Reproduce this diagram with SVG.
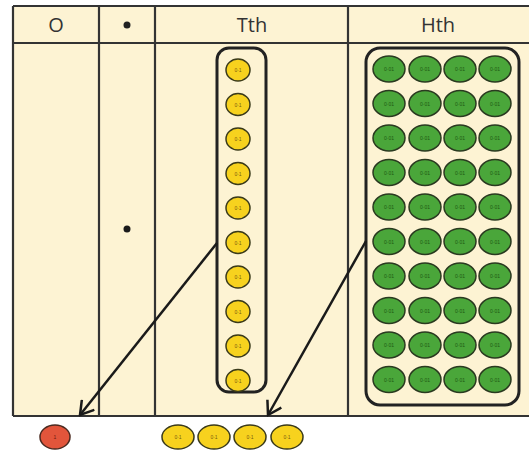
<svg xmlns="http://www.w3.org/2000/svg" width="529" height="451" viewBox="0 0 529 451">
<defs>
<style>
.grid{stroke:#333;stroke-width:2.2;fill:none}
.hdr{font-family:"Open Sans","Liberation Sans",Arial,sans-serif;font-size:20px;fill:#333;text-anchor:middle}
.box{fill:none;stroke:#222;stroke-width:3}
.y{fill:#f7d21e;stroke:#3a3a1a;stroke-width:1.5}
.g{fill:#4aa63a;stroke:#2a3a20;stroke-width:1.5}
.r{fill:#e2553b;stroke:#4a2a20;stroke-width:1.5}
.t{font-family:"Liberation Sans",Arial,sans-serif;font-size:5px;text-anchor:middle}
.ty{fill:#7a5a10}
.tg{fill:#1e5a14}
.tr{fill:#6a1a10}
.arr{stroke:#1a1a1a;stroke-width:2.5;fill:none}
</style>
<marker id="ah" markerWidth="16" markerHeight="18" refX="14" refY="9" orient="auto" markerUnits="userSpaceOnUse">
<path d="M1,1 L14,9 L1,17" fill="none" stroke="#1a1a1a" stroke-width="2.5"/>
</marker>
</defs>
<rect width="529" height="451" fill="#ffffff"/>
<g id="table">
<rect x="13" y="6" width="530" height="410" fill="#fdf3d3"/>
<path class="grid" d="M13,6 H529 M13,43 H529 M13,416 H529 M13,6 V416 M99,6 V416 M155,6 V416 M348,6 V416"/>
<text class="hdr" x="56" y="32">O</text>
<circle cx="127" cy="25" r="3.5" fill="#222"/>
<text class="hdr" x="252" y="32">Tth</text>
<text class="hdr" x="438" y="32">Hth</text>
<circle cx="127" cy="229" r="3.5" fill="#1a1a1a"/>
</g>
<g id="tth-group">
<rect class="box" x="217" y="48" width="49" height="344" rx="12"/>
<g id="tth-counters">
<ellipse class="y" cx="238" cy="70" rx="12" ry="11"/><text class="t ty" x="238" y="72">0·1</text>
<ellipse class="y" cx="238" cy="104.5" rx="12" ry="11"/><text class="t ty" x="238" y="106.5">0·1</text>
<ellipse class="y" cx="238" cy="139" rx="12" ry="11"/><text class="t ty" x="238" y="141">0·1</text>
<ellipse class="y" cx="238" cy="173.5" rx="12" ry="11"/><text class="t ty" x="238" y="175.5">0·1</text>
<ellipse class="y" cx="238" cy="208" rx="12" ry="11"/><text class="t ty" x="238" y="210">0·1</text>
<ellipse class="y" cx="238" cy="242.5" rx="12" ry="11"/><text class="t ty" x="238" y="244.5">0·1</text>
<ellipse class="y" cx="238" cy="277" rx="12" ry="11"/><text class="t ty" x="238" y="279">0·1</text>
<ellipse class="y" cx="238" cy="311.5" rx="12" ry="11"/><text class="t ty" x="238" y="313.5">0·1</text>
<ellipse class="y" cx="238" cy="346" rx="12" ry="11"/><text class="t ty" x="238" y="348">0·1</text>
<ellipse class="y" cx="238" cy="380.5" rx="12" ry="11"/><text class="t ty" x="238" y="382.5">0·1</text>
</g>
</g>
<g id="hth-group">
<rect class="box" x="366" y="48" width="153" height="357" rx="14"/>
<g id="hth-counters">
<g id="hrow0"><ellipse class="g" cx="389" cy="69" rx="16" ry="13"/><ellipse class="g" cx="425" cy="69" rx="16" ry="13"/><ellipse class="g" cx="460" cy="69" rx="16" ry="13"/><ellipse class="g" cx="495" cy="69" rx="16" ry="13"/>
<text class="t tg" x="389" y="71">0·01</text><text class="t tg" x="425" y="71">0·01</text><text class="t tg" x="460" y="71">0·01</text><text class="t tg" x="495" y="71">0·01</text></g>
<g id="hrow1"><ellipse class="g" cx="389" cy="103.5" rx="16" ry="13"/><ellipse class="g" cx="425" cy="103.5" rx="16" ry="13"/><ellipse class="g" cx="460" cy="103.5" rx="16" ry="13"/><ellipse class="g" cx="495" cy="103.5" rx="16" ry="13"/>
<text class="t tg" x="389" y="105.5">0·01</text><text class="t tg" x="425" y="105.5">0·01</text><text class="t tg" x="460" y="105.5">0·01</text><text class="t tg" x="495" y="105.5">0·01</text></g>
<g id="hrow2"><ellipse class="g" cx="389" cy="138" rx="16" ry="13"/><ellipse class="g" cx="425" cy="138" rx="16" ry="13"/><ellipse class="g" cx="460" cy="138" rx="16" ry="13"/><ellipse class="g" cx="495" cy="138" rx="16" ry="13"/>
<text class="t tg" x="389" y="140">0·01</text><text class="t tg" x="425" y="140">0·01</text><text class="t tg" x="460" y="140">0·01</text><text class="t tg" x="495" y="140">0·01</text></g>
<g id="hrow3"><ellipse class="g" cx="389" cy="172.5" rx="16" ry="13"/><ellipse class="g" cx="425" cy="172.5" rx="16" ry="13"/><ellipse class="g" cx="460" cy="172.5" rx="16" ry="13"/><ellipse class="g" cx="495" cy="172.5" rx="16" ry="13"/>
<text class="t tg" x="389" y="174.5">0·01</text><text class="t tg" x="425" y="174.5">0·01</text><text class="t tg" x="460" y="174.5">0·01</text><text class="t tg" x="495" y="174.5">0·01</text></g>
<g id="hrow4"><ellipse class="g" cx="389" cy="207" rx="16" ry="13"/><ellipse class="g" cx="425" cy="207" rx="16" ry="13"/><ellipse class="g" cx="460" cy="207" rx="16" ry="13"/><ellipse class="g" cx="495" cy="207" rx="16" ry="13"/>
<text class="t tg" x="389" y="209">0·01</text><text class="t tg" x="425" y="209">0·01</text><text class="t tg" x="460" y="209">0·01</text><text class="t tg" x="495" y="209">0·01</text></g>
<g id="hrow5"><ellipse class="g" cx="389" cy="241.5" rx="16" ry="13"/><ellipse class="g" cx="425" cy="241.5" rx="16" ry="13"/><ellipse class="g" cx="460" cy="241.5" rx="16" ry="13"/><ellipse class="g" cx="495" cy="241.5" rx="16" ry="13"/>
<text class="t tg" x="389" y="243.5">0·01</text><text class="t tg" x="425" y="243.5">0·01</text><text class="t tg" x="460" y="243.5">0·01</text><text class="t tg" x="495" y="243.5">0·01</text></g>
<g id="hrow6"><ellipse class="g" cx="389" cy="276" rx="16" ry="13"/><ellipse class="g" cx="425" cy="276" rx="16" ry="13"/><ellipse class="g" cx="460" cy="276" rx="16" ry="13"/><ellipse class="g" cx="495" cy="276" rx="16" ry="13"/>
<text class="t tg" x="389" y="278">0·01</text><text class="t tg" x="425" y="278">0·01</text><text class="t tg" x="460" y="278">0·01</text><text class="t tg" x="495" y="278">0·01</text></g>
<g id="hrow7"><ellipse class="g" cx="389" cy="310.5" rx="16" ry="13"/><ellipse class="g" cx="425" cy="310.5" rx="16" ry="13"/><ellipse class="g" cx="460" cy="310.5" rx="16" ry="13"/><ellipse class="g" cx="495" cy="310.5" rx="16" ry="13"/>
<text class="t tg" x="389" y="312.5">0·01</text><text class="t tg" x="425" y="312.5">0·01</text><text class="t tg" x="460" y="312.5">0·01</text><text class="t tg" x="495" y="312.5">0·01</text></g>
<g id="hrow8"><ellipse class="g" cx="389" cy="345" rx="16" ry="13"/><ellipse class="g" cx="425" cy="345" rx="16" ry="13"/><ellipse class="g" cx="460" cy="345" rx="16" ry="13"/><ellipse class="g" cx="495" cy="345" rx="16" ry="13"/>
<text class="t tg" x="389" y="347">0·01</text><text class="t tg" x="425" y="347">0·01</text><text class="t tg" x="460" y="347">0·01</text><text class="t tg" x="495" y="347">0·01</text></g>
<g id="hrow9"><ellipse class="g" cx="389" cy="379.5" rx="16" ry="13"/><ellipse class="g" cx="425" cy="379.5" rx="16" ry="13"/><ellipse class="g" cx="460" cy="379.5" rx="16" ry="13"/><ellipse class="g" cx="495" cy="379.5" rx="16" ry="13"/>
<text class="t tg" x="389" y="381.5">0·01</text><text class="t tg" x="425" y="381.5">0·01</text><text class="t tg" x="460" y="381.5">0·01</text><text class="t tg" x="495" y="381.5">0·01</text></g>
</g>
</g>
<g id="result-one">
<ellipse class="r" cx="55" cy="437" rx="15" ry="12"/><text class="t tr" x="55" y="439">1</text>
</g>
<g id="result-tenths">
<ellipse class="y" cx="178" cy="437" rx="16" ry="12"/><text class="t ty" x="178" y="439">0·1</text>
<ellipse class="y" cx="214" cy="437" rx="16" ry="12"/><text class="t ty" x="214" y="439">0·1</text>
<ellipse class="y" cx="250" cy="437" rx="16" ry="12"/><text class="t ty" x="250" y="439">0·1</text>
<ellipse class="y" cx="287" cy="437" rx="16" ry="12"/><text class="t ty" x="287" y="439">0·1</text>
</g>
<g id="connectors">
<line class="arr" x1="217" y1="243" x2="80" y2="415" marker-end="url(#ah)"/>
<line class="arr" x1="366" y1="241" x2="268" y2="415" marker-end="url(#ah)"/>
</g>
</svg>
